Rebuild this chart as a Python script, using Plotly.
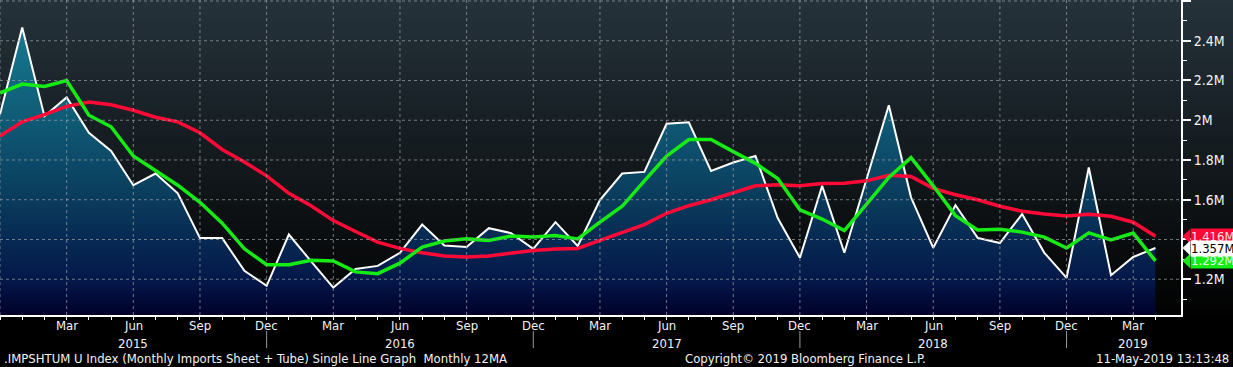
import plotly.graph_objects as go
import pandas as pd

# ---------------- data ----------------
months = pd.period_range("2014-12", "2019-04", freq="M")

imports = [2.03, 2.467, 2.02, 2.115, 1.937, 1.845, 1.673, 1.732, 1.632, 1.407,
           1.407, 1.242, 1.167, 1.425, 1.29, 1.158, 1.252, 1.267, 1.333, 1.475,
           1.37, 1.362, 1.457, 1.432, 1.353, 1.487, 1.367, 1.598, 1.732, 1.74,
           1.982, 1.99, 1.745, 1.787, 1.82, 1.508, 1.308, 1.67, 1.333, 1.70,
           2.075, 1.612, 1.358, 1.573, 1.408, 1.382, 1.528, 1.333, 1.207, 1.762,
           1.22, 1.312, 1.357]

ma_short = [2.137, 2.182, 2.17, 2.2, 2.025, 1.967, 1.82, 1.748, 1.673, 1.587,
            1.482, 1.353, 1.273, 1.273, 1.295, 1.292, 1.237, 1.228, 1.281, 1.362,
            1.392, 1.403, 1.395, 1.417, 1.412, 1.42, 1.403, 1.487, 1.567, 1.695,
            1.82, 1.903, 1.903, 1.842, 1.783, 1.707, 1.549, 1.503, 1.445, 1.578,
            1.712, 1.812, 1.67, 1.52, 1.448, 1.452, 1.437, 1.412, 1.357, 1.433,
            1.398, 1.432, 1.292]

ma_12 = [1.92, 1.992, 2.028, 2.07, 2.092, 2.078, 2.05, 2.015, 1.992, 1.937,
         1.853, 1.79, 1.72, 1.632, 1.57, 1.495, 1.44, 1.387, 1.355, 1.333,
         1.317, 1.312, 1.317, 1.332, 1.345, 1.352, 1.355, 1.395, 1.433, 1.475,
         1.532, 1.57, 1.6, 1.633, 1.67, 1.675, 1.67, 1.682, 1.683, 1.695,
         1.723, 1.717, 1.657, 1.625, 1.6, 1.567, 1.542, 1.528, 1.518, 1.527,
         1.517, 1.487, 1.416]

year_label_at = ["2015-06", "2016-06", "2017-06", "2018-06", "2019-03"]

y_major = [1.2, 1.4, 1.6, 1.8, 2.0, 2.2, 2.4, 2.6]
y_labels = ["1.2M", "", "1.6M", "1.8M", "2M", "2.2M", "2.4M", ""]

footer_left = ".IMPSHTUM U Index (Monthly Imports Sheet + Tube) Single Line Graph  Monthly 12MA"
footer_mid = "Copyright\u00a9 2019 Bloomberg Finance L.P."
footer_right = "11-May-2019 13:13:48"

# ---------------- styling ----------------
FONT = "Liberation Sans Narrow, DejaVu Sans Condensed, Arial Narrow, sans-serif"
FS = 13
WHITE = "#f2f2f2"
RED = "#ff0a37"
GREEN = "#14ec14"
Y_RANGE = [1.02, 2.605]
X_RANGE = [0, 53.15]
W, H = 1233, 367
ML, MR, MT, MB = 0, 52, 0, 52
PW = W - ML - MR
PH = H - MT - MB


def py(px):
    """pixel row (from top of page) -> paper y"""
    return (PH - px) / PH


x = list(range(len(months)))

fig = go.Figure()
fig.add_trace(go.Scatter(
    x=x, y=imports, mode="lines", line=dict(color="white", width=2),
    fill="tozeroy",
    fillgradient=dict(type="vertical", start=1.02, stop=2.5,
                      colorscale=[[0, "#00002a"], [0.12, "#04184a"], [0.39, "#0a3b5c"],
                                  [0.66, "#0f5a75"], [1, "#177b92"]]),
    hoverinfo="skip"))
fig.add_trace(go.Scatter(x=x, y=ma_12, mode="lines", line=dict(color=RED, width=3.5),
                         hoverinfo="skip"))
fig.add_trace(go.Scatter(x=x, y=ma_short, mode="lines", line=dict(color=GREEN, width=3.5),
                         hoverinfo="skip"))

shapes = []
# background gradient (slate at top to black at bottom)
top = (37, 50, 58)
bot = (2, 2, 2)
N = 63
for k in range(N):
    t = k / (N - 1)
    c = tuple(round(top[j] + (bot[j] - top[j]) * t) for j in range(3))
    y1 = 1 - k / N
    y0 = 1 - (k + 1) / N - 0.004
    shapes.append(dict(type="rect", xref="paper", yref="paper", x0=0, x1=W / PW,
                       y0=max(y0, 0), y1=y1, layer="below", line=dict(width=0),
                       fillcolor="rgb(%d,%d,%d)" % c))
# dashed grid lines drawn over the fill
grid = dict(color="rgba(150,155,160,0.75)", width=1, dash="dot")
for i, p in enumerate(months):
    if p.month in (3, 6, 9, 12):
        shapes.append(dict(type="line", xref="x", yref="paper", x0=i, x1=i, y0=0, y1=1,
                           layer="above", line=grid))
for v in y_major:
    shapes.append(dict(type="line", xref="paper", yref="y", x0=0, x1=1, y0=v, y1=v,
                       layer="above", line=grid))
# year separators below the axis
for i, p in enumerate(months):
    if p.month == 12 and i > 0:
        shapes.append(dict(type="line", xref="x", yref="paper", x0=i, x1=i,
                           y0=py(331), y1=py(348),
                           line=dict(color="#9a9a9a", width=1)))

annotations = []
# month and year labels under the axis
for i, p in enumerate(months):
    if p.month in (3, 6, 9, 12) and i > 0:
        annotations.append(dict(xref="x", yref="paper", x=i, y=py(325.5), xanchor="center",
                                yanchor="middle", text=p.strftime("%b"), showarrow=False,
                                font=dict(family=FONT, size=FS, color=WHITE)))
    if str(p) in year_label_at:
        annotations.append(dict(xref="x", yref="paper", x=i, y=py(343.5), xanchor="center",
                                yanchor="middle", text=str(p.year), showarrow=False,
                                font=dict(family=FONT, size=FS, color=WHITE)))

# last value tags
tags = [(ma_12[-1], RED, "#ffe0e4"), (ma_short[-1], GREEN, "#e6ffe6"), (imports[-1], "white", "black")]
for v, bg, fg in tags:
    dy = 0.036
    shapes.append(dict(type="path", xref="paper", yref="y", layer="above",
                       path="M %f %f L %f %f L %f %f Z" % (1 + 1.5 / PW, v, 1 + 9 / PW, v + dy,
                                                           1 + 9 / PW, v - dy),
                       fillcolor=bg, line=dict(width=0)))
for v, bg, fg in tags:
    annotations.append(dict(xref="paper", yref="y", x=1 + 8.5 / PW, y=v, xanchor="left",
                            yanchor="middle", text="%.3fM" % v, showarrow=False,
                            bgcolor=bg, font=dict(family=FONT, size=FS, color=fg),
                            width=54, align="left", borderpad=0))

# footer
fy = py(358)
annotations.append(dict(xref="paper", yref="paper", x=2 / PW, y=fy, xanchor="left",
                        yanchor="middle", text=footer_left, showarrow=False,
                        font=dict(family=FONT, size=FS, color=WHITE)))
annotations.append(dict(xref="paper", yref="paper", x=805 / PW, y=fy, xanchor="center",
                        yanchor="middle", text=footer_mid, showarrow=False,
                        font=dict(family=FONT, size=FS, color=WHITE)))
annotations.append(dict(xref="paper", yref="paper", x=1231 / PW, y=fy, xanchor="right",
                        yanchor="middle", text=footer_right, showarrow=False,
                        font=dict(family=FONT, size=FS, color=WHITE)))

fig.update_layout(
    width=W, height=H,
    margin=dict(l=ML, r=MR, t=MT, b=MB, pad=0),
    paper_bgcolor="black", plot_bgcolor="rgba(0,0,0,0)",
    showlegend=False,
    shapes=shapes, annotations=annotations,
    xaxis=dict(range=X_RANGE, tickmode="array", tickvals=x, showticklabels=False,
               ticks="outside", ticklen=3, tickwidth=1, tickcolor="white",
               showline=True, linecolor="white", linewidth=2,
               showgrid=False, zeroline=False),
    yaxis=dict(side="right", range=Y_RANGE, tickmode="array", tickvals=y_major,
               ticktext=y_labels, ticks="outside", ticklen=8, tickwidth=2,
               tickcolor="white", showline=True, linecolor="white", linewidth=2,
               showgrid=False, zeroline=False,
               minor=dict(tickmode="linear", tick0=1.1, dtick=0.2, ticks="outside",
                          ticklen=4, tickwidth=1, tickcolor="white"),
               tickfont=dict(family=FONT, size=FS + 1, color=WHITE)),
)

fig.write_html("out.html", config={"displayModeBar": False},
               post_script="document.body.style.margin='0';document.body.style.padding='0';")
